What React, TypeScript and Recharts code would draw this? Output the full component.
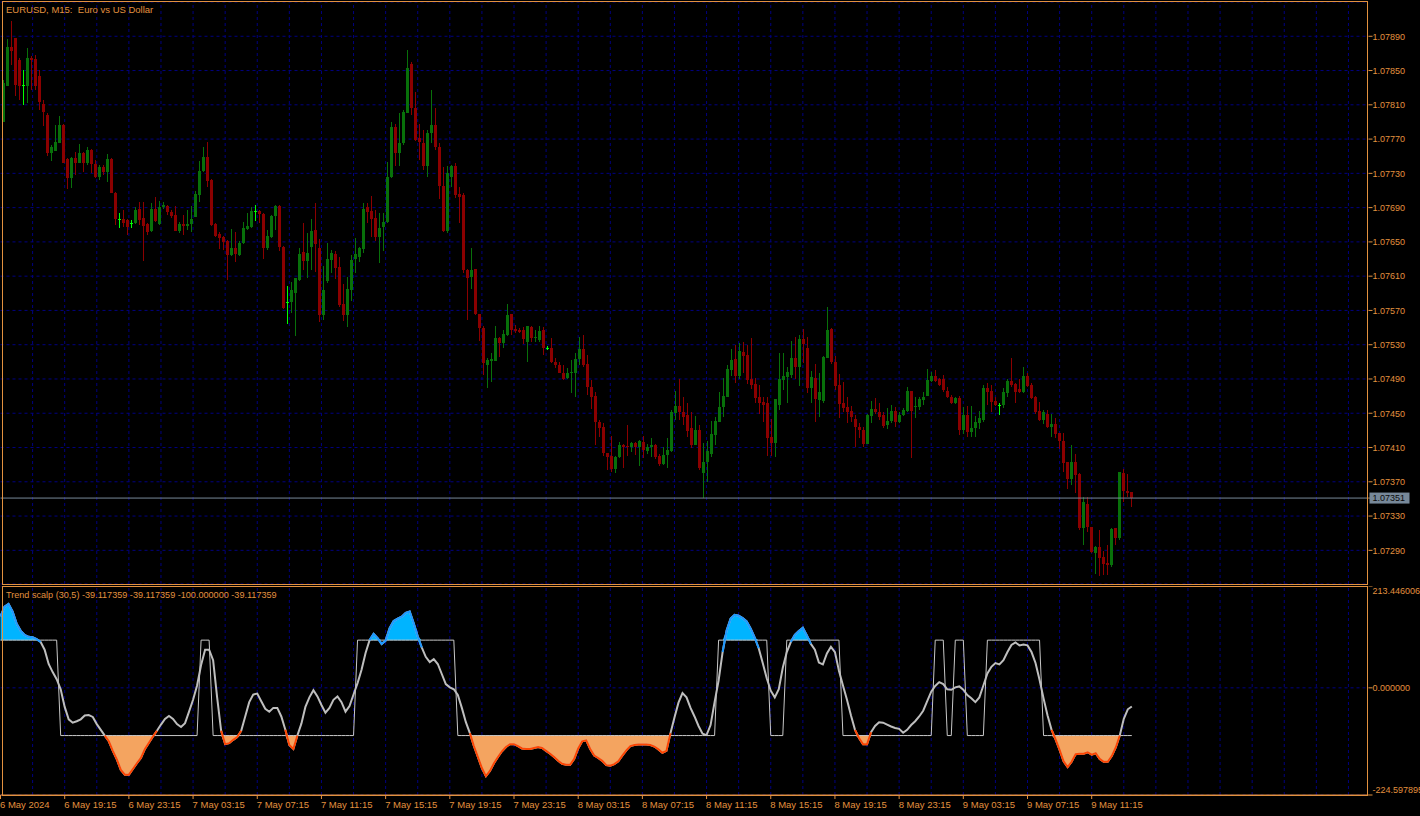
import React from 'react';
import { ComposedChart, Bar, Line, Area, XAxis, YAxis, CartesianGrid, ReferenceLine } from 'recharts';

// ---------- DATA (prices in points above 1.07000, i.e. 790 -> 1.07790) ----------
const BASE_PRICE = 1.07;
const POINT = 0.00001;

const openPts = [
  790, 832, 878, 888, 862, 833, 832, 865, 864, 844,
  811, 798, 754, 756, 765, 786, 747, 725, 748, 742,
  754, 742, 757, 741, 726, 737, 732, 747, 707, 677,
  677, 676, 672, 672, 688, 678, 671, 663, 688, 671,
  691, 692, 685, 681, 663, 671, 669, 671, 679, 705,
  733, 749, 722, 671, 659, 656, 651, 635, 643, 635,
  649, 665, 667, 686, 686, 683, 643, 656, 680, 692,
  644, 580, 580, 590, 606, 638, 628, 644, 664, 643,
  565, 604, 629, 636, 621, 577, 565, 594, 630, 632,
  642, 691, 686, 678, 656, 667, 673, 726, 784, 754,
  765, 800, 858, 806, 771, 765, 739, 777, 786, 761,
  715, 663, 726, 739, 706, 705, 617, 609, 618, 566,
  550, 506, 511, 511, 538, 532, 541, 566, 548, 547,
  547, 533, 551, 538, 536, 547, 526, 526, 510, 506,
  497, 491, 497, 497, 513, 525, 507, 481, 470, 440,
  434, 404, 400, 385, 399, 413, 412, 411, 415, 411,
  416, 406, 411, 413, 400, 391, 401, 406, 450, 458,
  451, 448, 433, 413, 430, 380, 393, 402, 425, 440,
  457, 469, 500, 513, 493, 522, 518, 490, 484, 469,
  463, 462, 422, 415, 460, 489, 492, 495, 514, 504,
  537, 526, 479, 491, 465, 464, 514, 548, 510, 483,
  462, 457, 453, 443, 434, 430, 414, 447, 455, 451,
  448, 436, 441, 453, 440, 448, 453, 476, 457, 457,
  465, 470, 488, 494, 490, 490, 476, 469, 462, 468,
  430, 448, 428, 433, 439, 442, 479, 476, 464, 460,
  460, 474, 488, 484, 478, 475, 493, 483, 469, 453,
  442, 449, 434, 437, 427, 418, 393, 373, 393, 379,
  316, 344, 317, 287, 294, 282, 275, 273, 316, 304,
  380, 359, 358,
];

const highPts = [
  839, 887, 908, 888, 865, 851, 876, 867, 868, 851,
  816, 800, 763, 786, 797, 788, 748, 749, 755, 764,
  755, 761, 758, 746, 740, 740, 753, 748, 708, 684,
  687, 677, 676, 691, 697, 697, 672, 695, 702, 698,
  697, 693, 687, 692, 673, 681, 687, 692, 709, 744,
  761, 767, 723, 672, 661, 657, 652, 665, 662, 651,
  673, 684, 691, 693, 687, 684, 664, 681, 693, 693,
  645, 599, 603, 608, 643, 672, 660, 677, 695, 653,
  622, 649, 641, 639, 632, 601, 609, 635, 655, 644,
  695, 695, 704, 687, 684, 684, 743, 790, 788, 800,
  804, 874, 860, 825, 788, 781, 781, 827, 806, 765,
  737, 739, 740, 742, 714, 707, 618, 643, 618, 566,
  552, 514, 520, 552, 539, 547, 578, 566, 553, 549,
  551, 552, 552, 547, 552, 551, 528, 538, 514, 510,
  506, 503, 512, 520, 539, 541, 518, 489, 475, 442,
  439, 404, 423, 400, 416, 414, 436, 416, 416, 419,
  423, 414, 421, 414, 403, 411, 421, 454, 476, 490,
  469, 462, 451, 447, 436, 415, 418, 441, 446, 475,
  491, 506, 525, 530, 532, 533, 530, 538, 491, 483,
  469, 469, 443, 467, 520, 520, 504, 534, 539, 541,
  548, 539, 499, 507, 497, 517, 574, 549, 517, 496,
  486, 469, 458, 448, 439, 434, 449, 464, 468, 462,
  451, 456, 460, 457, 451, 456, 481, 476, 469, 469,
  475, 502, 498, 500, 491, 495, 481, 471, 469, 470,
  457, 458, 458, 447, 453, 483, 485, 483, 469, 462,
  479, 490, 514, 485, 490, 504, 497, 485, 470, 463,
  454, 454, 449, 444, 427, 427, 393, 413, 402, 380,
  352, 352, 317, 295, 314, 289, 296, 316, 316, 381,
  385, 379, 358,
];

const lowPts = [
  790, 832, 857, 820, 816, 810, 812, 827, 827, 804,
  785, 750, 744, 756, 765, 742, 712, 713, 728, 742,
  732, 740, 730, 725, 722, 728, 720, 707, 670, 666,
  667, 658, 666, 671, 670, 628, 658, 662, 673, 670,
  688, 681, 678, 663, 660, 658, 664, 662, 679, 697,
  732, 714, 669, 656, 642, 641, 606, 634, 627, 634,
  648, 664, 666, 674, 672, 630, 641, 655, 664, 639,
  572, 554, 567, 540, 604, 617, 608, 617, 615, 557,
  559, 602, 614, 607, 574, 558, 551, 581, 614, 627,
  637, 672, 656, 651, 625, 639, 672, 725, 739, 739,
  763, 800, 798, 768, 746, 734, 726, 765, 757, 700,
  662, 660, 714, 701, 672, 614, 559, 595, 565, 534,
  495, 480, 486, 511, 516, 526, 540, 541, 544, 544,
  531, 510, 533, 533, 533, 518, 524, 509, 503, 497,
  489, 490, 474, 469, 506, 504, 471, 455, 413, 422,
  400, 384, 381, 380, 398, 386, 400, 405, 401, 388,
  398, 403, 399, 397, 388, 390, 386, 405, 442, 442,
  436, 422, 409, 413, 384, 351, 370, 399, 413, 440,
  446, 469, 493, 485, 490, 497, 484, 478, 462, 449,
  440, 400, 400, 399, 454, 477, 462, 491, 490, 482,
  509, 474, 462, 440, 446, 462, 514, 507, 477, 444,
  451, 439, 440, 411, 421, 411, 414, 439, 449, 442,
  433, 432, 439, 434, 439, 447, 452, 398, 444, 454,
  460, 470, 486, 486, 482, 475, 468, 461, 461, 425,
  426, 422, 422, 422, 432, 440, 460, 451, 458, 448,
  456, 469, 481, 462, 474, 474, 481, 467, 449, 441,
  437, 433, 422, 421, 408, 381, 362, 366, 357, 314,
  296, 311, 287, 262, 260, 261, 261, 271, 296, 302,
  346, 352, 341,
];

const closePts = [
  835, 878, 873, 833, 832, 833, 865, 862, 832, 813,
  802, 754, 761, 767, 786, 742, 725, 748, 742, 754,
  742, 757, 741, 726, 737, 732, 747, 707, 677, 677,
  672, 667, 672, 687, 676, 669, 662, 688, 674, 691,
  693, 685, 680, 663, 671, 669, 671, 677, 706, 733,
  749, 721, 670, 657, 655, 650, 635, 643, 636, 649,
  666, 668, 686, 686, 683, 643, 657, 680, 692, 644,
  573, 580, 594, 608, 636, 628, 637, 663, 648, 565,
  594, 630, 637, 620, 576, 565, 595, 629, 636, 643,
  688, 685, 677, 656, 666, 673, 726, 784, 754, 765,
  802, 853, 806, 769, 767, 739, 777, 786, 761, 715,
  663, 730, 739, 705, 702, 617, 608, 617, 566, 550,
  509, 512, 513, 538, 532, 543, 565, 547, 546, 545,
  537, 552, 538, 539, 546, 526, 526, 510, 506, 497,
  490, 497, 498, 513, 525, 506, 481, 469, 440, 433,
  404, 399, 385, 399, 413, 411, 411, 415, 411, 418,
  407, 411, 413, 399, 391, 401, 407, 451, 458, 451,
  446, 429, 413, 430, 386, 393, 406, 426, 441, 457,
  470, 502, 512, 493, 523, 517, 489, 483, 468, 462,
  460, 421, 415, 467, 490, 493, 498, 514, 504, 537,
  531, 479, 492, 467, 475, 516, 547, 510, 482, 461,
  456, 451, 446, 434, 430, 414, 448, 455, 451, 446,
  435, 441, 453, 440, 448, 454, 476, 453, 459, 467,
  469, 489, 494, 488, 483, 477, 469, 462, 468, 430,
  448, 428, 433, 440, 444, 479, 475, 463, 460, 460,
  475, 488, 483, 475, 475, 493, 482, 468, 451, 442,
  451, 434, 437, 426, 418, 392, 373, 393, 378, 316,
  346, 317, 288, 294, 281, 274, 273, 315, 304, 381,
  359, 357, 351,
];

// Trend scalp oscillator (main line)
const oscValues = [
  150, 170, 176, 160, 135, 120, 111, 107, 106, 102,
  96, 80, 50, 33, 18, -3, -40, -66, -73, -70,
  -66, -58, -57, -61, -76, -88, -100, -112, -132, -150,
  -172, -182, -182, -170, -158, -147, -128, -115, -102, -90,
  -77, -65, -59, -65, -76, -82, -74, -50, -25, 5,
  48, 80, 80, 58, -20, -90, -118, -116, -109, -103,
  -90, -60, -30, -14, -12, -28, -44, -50, -42, -42,
  -60, -88, -120, -128, -100, -75, -40, -20, -5, -18,
  -36, -52, -42, -25, -18, -30, -50, -38, -14, 10,
  38, 73, 100, 113, 104, 92, 99, 125, 140, 145,
  149, 157, 160, 135, 108, 85, 65, 54, 60, 50,
  29, 8, 1, -3, -15, -42, -72, -95, -122, -145,
  -168, -185, -174, -158, -145, -133, -124, -118, -118, -122,
  -127, -128, -128, -126, -124, -126, -132, -138, -145, -153,
  -159, -161, -161, -149, -127, -112, -110, -128, -142, -147,
  -153, -162, -163, -160, -154, -142, -131, -122, -120, -119,
  -119, -119, -120, -123, -129, -136, -132, -95, -62, -31,
  -11, -20, -42, -60, -80, -96, -99, -78, -30, 15,
  75, 120, 145, 153, 151, 146, 139, 124, 105, 83,
  52, 20, -6, -20, -3, 42, 75, 96, 111, 119,
  126, 110, 92, 80, 53, 49, 72, 86, 75, 36,
  5, -25, -58, -88, -105, -118, -118, -93, -80, -72,
  -73, -77, -81, -84, -86, -94, -88, -78, -70, -60,
  -48, -28, -8, 4, 12, 8, -3, -4, 1, 3,
  -4, -15, -22, -30, -20, 5, 30, 44, 52, 49,
  58, 75, 90, 95, 89, 91, 89, 75, 52, 17,
  -22, -58, -88, -108, -130, -154, -166, -155, -139, -138,
  -138, -135, -140, -137, -149, -155, -155, -143, -125, -100,
  -65, -45, -39,
];

const U = 100;
const D = -100;
// Trend state line (+100 / -100)
const trendValues = [
  U, U, U, U, U, U, U, U, U, U,
  U, U, U, U, U, D, D, D, D, D,
  D, D, D, D, D, D, D, D, D, D,
  D, D, D, D, D, D, D, D, D, D,
  D, D, D, D, D, D, D, D, D, D,
  U, U, U, D, D, D, D, D, D, D,
  D, D, D, D, D, D, D, D, D, D,
  D, D, D, D, D, D, D, D, D, D,
  D, D, D, D, D, D, D, D, D, U,
  U, U, U, U, U, U, U, U, U, U,
  U, U, U, U, U, U, U, U, U, U,
  U, U, U, U, D, D, D, D, D, D,
  D, D, D, D, D, D, D, D, D, D,
  D, D, D, D, D, D, D, D, D, D,
  D, D, D, D, D, D, D, D, D, D,
  D, D, D, D, D, D, D, D, D, D,
  D, D, D, D, D, D, D, D, D, D,
  D, D, D, D, D, D, D, D, D, U,
  U, U, U, U, U, U, U, U, U, U,
  U, U, D, D, D, D, U, U, U, U,
  U, U, U, U, U, U, U, U, U, U,
  D, D, D, D, D, D, D, D, D, D,
  D, D, D, D, D, D, D, D, D, D,
  D, D, D, U, U, U, D, D, U, U,
  U, D, D, D, D, D, U, U, U, U,
  U, U, U, U, U, U, U, U, U, U,
  D, D, D, D, D, D, D, D, D, D,
  D, D, D, D, D, D, D, D, D, D,
  D, D, D,
];

const priceTicks = [1.0729, 1.0733, 1.0737, 1.0741, 1.0745, 1.0749, 1.0753, 1.0757, 1.0761, 1.0765, 1.0769, 1.0773, 1.0777, 1.0781, 1.0785, 1.0789];
const lastPrice = 1.07351;
const mainDomain: [number, number] = [1.072507, 1.0793];
const oscTicks = [-224.597895, 0, 213.446006];
const oscDomain: [number, number] = [-224.597895, 213.446006];
const timeTickIdx = [0, 16, 32, 48, 64, 80, 96, 112, 128, 144, 160, 176, 192, 208, 224, 240, 256, 272];
const timeTickLabels = [
  '6 May 2024', '6 May 19:15', '6 May 23:15', '7 May 03:15', '7 May 07:15', '7 May 11:15',
  '7 May 15:15', '7 May 19:15', '7 May 23:15', '8 May 03:15', '8 May 07:15', '8 May 11:15',
  '8 May 15:15', '8 May 19:15', '8 May 23:15', '9 May 03:15', '9 May 07:15', '9 May 11:15',
];

// ---------- STYLE ----------
const SLOTS = 342; // bar slots across the plot width (empty space on the right)
const ORANGE = '#E2913F';
const GRID = '#000080';
const BULL = '#08700A';
const BEAR = '#8B0000';
const DOJI = '#00FF00';
const PRICE_LINE = '#778899';
const OSC_COLOR = '#BEBEBE';
const STEP_COLOR = '#C8C8C8';
const BLUE_FILL = '#00B4FF';
const BLUE_EDGE = '#1E98FF';
const ORANGE_FILL = '#F4A460';
const ORANGE_EDGE = '#FF4500';
const FONT = '"Liberation Sans", Arial, Helvetica, sans-serif';

const gridIdx = Array.from({ length: Math.floor((SLOTS - 1) / 8) }, (_, k) => (k + 1) * 8);

const nBars = Math.min(openPts.length, highPts.length, lowPts.length, closePts.length, oscValues.length, trendValues.length);

const rows = Array.from({ length: SLOTS }, (_, i) => {
  if (i >= nBars) return { idx: i } as any;
  const osc = oscValues[i];
  const prev = i > 0 ? oscValues[i - 1] : osc;
  const next = i < nBars - 1 ? oscValues[i + 1] : osc;
  return {
    idx: i,
    open: BASE_PRICE + openPts[i] * POINT,
    high: BASE_PRICE + highPts[i] * POINT,
    low: BASE_PRICE + lowPts[i] * POINT,
    close: BASE_PRICE + closePts[i] * POINT,
    osc,
    trend: trendValues[i],
    lowEdge: osc < -100 || prev < -100 || next < -100 ? osc : null,
    highEdge: osc > 100 || prev > 100 || next > 100 ? osc : null,
  };
});

// ---------- RENDERERS ----------
const Candle = (props: any) => {
  const { x, y, width, height, payload } = props;
  if (!payload || payload.open === undefined) return null;
  const { open, close, high, low } = payload;
  const top = Math.min(y, y + height);
  const bot = Math.max(y, y + height);
  const span = high - low;
  const py = (v: number) => (span > 0 ? top + ((high - v) / span) * (bot - top) : top);
  const cx = x + width / 2;
  const color = close > open ? BULL : close < open ? BEAR : DOJI;
  const bTop = py(Math.max(open, close));
  const bBot = py(Math.min(open, close));
  const bh = Math.max(1, bBot - bTop);
  return (
    <g shapeRendering="crispEdges">
      <line x1={cx} x2={cx} y1={top} y2={bot} stroke={color} strokeWidth={1} />
      <rect x={cx - 1.5} y={bTop} width={3} height={bh} fill={color} />
    </g>
  );
};

const PriceTick = (props: any) => {
  const { x, y, payload } = props;
  const v = Number(payload.value);
  const label = v.toFixed(5);
  if (Math.abs(v - lastPrice) < 1e-7) {
    return (
      <g>
        <rect x={x - 5} y={y - 5.5} width={40} height={11} fill={PRICE_LINE} />
        <text x={x - 2} y={y} dy={3.3} fill="#0a0a0a" fontSize={9} fontFamily={FONT}>{label}</text>
      </g>
    );
  }
  return (
    <text x={x - 2} y={y} dy={3.3} fill={ORANGE} fontSize={9} fontFamily={FONT}>{label}</text>
  );
};

const OscTick = (props: any) => {
  const { x, y, payload } = props;
  const v = Number(payload.value);
  let dy = 3.3;
  if (v > 200) dy = 8.3;
  if (v < -200) dy = -2.5;
  return (
    <text x={x - 2} y={y} dy={dy} fill={ORANGE} fontSize={9} fontFamily={FONT}>{v.toFixed(6)}</text>
  );
};

const TimeTick = (props: any) => {
  const { x, y, payload } = props;
  const k = timeTickIdx.indexOf(Number(payload.value));
  if (k < 0) return null;
  return (
    <text x={x - 0.5} y={y} dy="0.71em" textAnchor="start" fill={ORANGE} fontSize={9.5} fontFamily={FONT}>
      {timeTickLabels[k]}
    </text>
  );
};

const EmptyTick = () => <g />;

const layer: React.CSSProperties = { position: 'absolute', left: 0 };

export default function App() {
  return (
    <div style={{ position: 'absolute', left: 0, top: 0, width: 1420, height: 816, background: '#000', overflow: 'hidden' }}>
      {/* Price panel: grid layer */}
      <div style={{ ...layer, top: 0 }}>
        <ComposedChart width={1420} height={587} data={rows} margin={{ top: 2, right: 0, bottom: 3, left: 0.5 }}>
          <CartesianGrid vertical={false} stroke={GRID} strokeDasharray="3 3" />
          <XAxis dataKey="idx" type="category" hide />
          <YAxis orientation="right" width={51.5} type="number" domain={mainDomain} ticks={priceTicks} interval={0}
            allowDataOverflow axisLine={false} tickLine={false} tick={EmptyTick} />
          {gridIdx.map((k) => (
            <ReferenceLine key={'vg' + k} x={k} stroke={GRID} strokeDasharray="3 3" />
          ))}
        </ComposedChart>
      </div>
      {/* Price panel: data layer */}
      <div style={{ ...layer, top: 0 }}>
        <ComposedChart width={1420} height={587} data={rows} margin={{ top: 2, right: 0, bottom: 3, left: 0.5 }}>
          <XAxis dataKey="idx" type="category" hide />
          <YAxis
            orientation="right"
            width={51.5}
            type="number"
            domain={mainDomain}
            ticks={[...priceTicks, lastPrice]}
            interval={0}
            allowDataOverflow
            axisLine={false}
            tickLine={{ stroke: ORANGE }}
            tickSize={4}
            tick={PriceTick}
          />
          <ReferenceLine y={lastPrice} stroke={PRICE_LINE} strokeWidth={1} />
          <Bar
            dataKey={(d: any) => (d.low === undefined ? null : [d.low, d.high])}
            barSize={3}
            shape={Candle}
            isAnimationActive={false}
          />
        </ComposedChart>
      </div>

      {/* Indicator panel: grid layer */}
      <div style={{ ...layer, top: 586 }}>
        <ComposedChart width={1420} height={230} data={rows} margin={{ top: 0, right: 0, bottom: 0, left: 0.5 }}>
          <CartesianGrid vertical={false} stroke={GRID} strokeDasharray="3 3" />
          <XAxis dataKey="idx" type="category" height={21} axisLine={false} tickLine={false} tick={EmptyTick} />
          <YAxis orientation="right" width={51.5} type="number" domain={oscDomain} ticks={oscTicks} interval={0}
            allowDataOverflow axisLine={false} tickLine={false} tick={EmptyTick} />
          {gridIdx.map((k) => (
            <ReferenceLine key={'ig' + k} x={k} stroke={GRID} strokeDasharray="3 3" />
          ))}
        </ComposedChart>
      </div>
      {/* Indicator panel: data layer */}
      <div style={{ ...layer, top: 586 }}>
        <ComposedChart width={1420} height={230} data={rows} margin={{ top: 0, right: 0, bottom: 0, left: 0.5 }}>
          <XAxis
            dataKey="idx"
            type="category"
            ticks={timeTickIdx}
            interval={0}
            height={21}
            tickSize={4}
            axisLine={{ stroke: ORANGE }}
            tickLine={{ stroke: ORANGE }}
            tick={TimeTick}
          />
          <YAxis
            orientation="right"
            width={51.5}
            type="number"
            domain={oscDomain}
            ticks={oscTicks}
            interval={0}
            allowDataOverflow
            axisLine={false}
            tickLine={{ stroke: ORANGE }}
            tickSize={4}
            tick={OscTick}
          />
          <Area
            type="linear"
            dataKey={(d: any) => (d.osc === undefined ? null : [100, Math.max(d.osc, 100)])}
            fill={BLUE_FILL}
            fillOpacity={1}
            stroke="none"
            isAnimationActive={false}
            activeDot={false}
          />
          <Area
            type="linear"
            dataKey={(d: any) => (d.osc === undefined ? null : [-100, Math.min(d.osc, -100)])}
            fill={ORANGE_FILL}
            fillOpacity={1}
            stroke="none"
            isAnimationActive={false}
            activeDot={false}
          />
          <Line type="linear" dataKey="trend" stroke={STEP_COLOR} strokeWidth={1} dot={false} activeDot={false} isAnimationActive={false} />
          <Line type="linear" dataKey="osc" stroke={OSC_COLOR} strokeWidth={2} dot={false} activeDot={false} isAnimationActive={false} />
          <Line type="linear" dataKey="lowEdge" stroke={ORANGE_EDGE} strokeWidth={2} dot={false} activeDot={false} isAnimationActive={false} />
          <Line type="linear" dataKey="highEdge" stroke={BLUE_EDGE} strokeWidth={2} dot={false} activeDot={false} isAnimationActive={false} />
        </ComposedChart>
      </div>

      {/* Frames */}
      <div style={{ position: 'absolute', left: 2, top: 1, width: 1364, height: 582, border: `1px solid ${ORANGE}`, pointerEvents: 'none' }} />
      <div style={{ position: 'absolute', left: 2, top: 586, width: 1364, height: 208, border: `1px solid ${ORANGE}`, pointerEvents: 'none' }} />

      {/* Titles */}
      <div style={{ position: 'absolute', left: 6, top: 4, color: ORANGE, fontFamily: FONT, fontSize: 9.5, lineHeight: '11px', whiteSpace: 'pre' }}>
        {'EURUSD, M15:  Euro vs US Dollar'}
      </div>
      <div style={{ position: 'absolute', left: 6, top: 590, color: ORANGE, fontFamily: FONT, fontSize: 9.1, lineHeight: '11px', whiteSpace: 'pre' }}>
        {'Trend scalp (30,5) -39.117359 -39.117359 -100.000000 -39.117359'}
      </div>
    </div>
  );
}
